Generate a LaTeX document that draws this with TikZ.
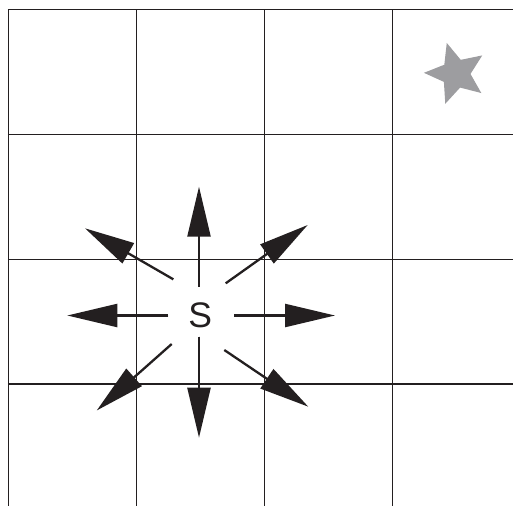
\documentclass[tikz,border=0pt]{standalone}
\usepackage{fontspec}
\setmainfont{Liberation Sans}
\usetikzlibrary{arrows.meta,calc}
\definecolor{ink}{HTML}{231F20}
\definecolor{stargray}{HTML}{9D9DA0}
\tikzset{
  gridline/.style={draw=ink, line width=1.4pt},
  dirarrow/.style={draw=ink, fill=ink, line width=2.3pt, -{Triangle[length=50pt,width=23pt]}},
}
\begin{document}
\begin{tikzpicture}[x=1pt,y=-1pt]
\useasboundingbox (0,0) rectangle (513,506);
% grid
\foreach \x in {8.5,136.7,264.7,392.5} \draw[gridline] (\x,9.7) -- (\x,506);
\foreach \y in {9.7,134.3,259.2,384} \draw[gridline] (7.8,\y) -- (513,\y);
% star
\coordinate (sc) at (455.9,73.6);
\fill[stargray] ($(sc)+(-106.6:32)$)
  \foreach \k in {0,...,4} { -- ($(sc)+(-106.6-72*\k:32)$) -- ($(sc)+(-142.6-72*\k:14.6)$) } -- cycle;
% S
\node[inner sep=0, text=ink, font=\fontsize{35.5}{40}\selectfont] (s) at (200.3,315.5) {S};
% arrows
\coordinate (n0) at (199,286.7);   \coordinate (n1) at (199,186.7);
\coordinate (e0) at (234,315.5);   \coordinate (e1) at (335,315.5);
\coordinate (w0) at (168.3,315.5); \coordinate (w1) at (67.3,315.5);
\coordinate (s0) at (199,336.7);   \coordinate (s1) at (199,437.7);
\coordinate (nw0) at (173.3,279.3); \coordinate (nw1) at (85,228.3);
\coordinate (ne0) at (225.7,283.3); \coordinate (ne1) at (307.7,225);
\coordinate (sw0) at (171.7,344);  \coordinate (sw1) at (96.7,410.5);
\coordinate (se0) at (224.3,350);  \coordinate (se1) at (308.3,406.7);
\foreach \d in {n,e,w,s,nw,ne,sw,se} \draw[dirarrow] (\d0) -- (\d1);
\end{tikzpicture}
\end{document}
